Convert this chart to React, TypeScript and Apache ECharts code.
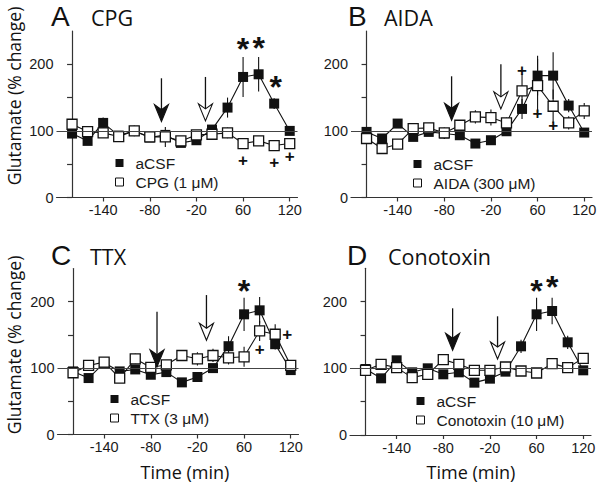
import React, { useEffect, useRef } from "react";
import * as echarts from "echarts";

// ---- data ----
const times = [-180, -160, -140, -120, -100, -80, -60, -40, -20, 20, 40, 60, 80, 100, 120];
const tickIndex = [2, 5, 8, 11, 14];
const yTicks = [0, 50, 100, 150, 200];

const A_acsf = [96, 85, 112, 93, 100, 90, 94, 82, 86, 102, 135, 181, 185, 141, 100];
const A_acsfErr = [5, 5, 8, 4, 4, 4, 4, 4, 4, 5, 15, 30, 26, 8, 5];
const A_drug = [110, 99, 97, 91.5, 100, 91, 91, 85, 94, 95, 97, 81, 85, 78, 81];
const A_drugErr = [5, 4, 4, 4, 8, 5, 15, 5, 5, 5, 8, 5, 4, 5, 5];

const B_acsf = [98.5, 88.6, 111, 91, 98.5, 96, 93.5, 81, 86, 99.5, 133, 183, 183, 138, 97.5];
const B_acsfErr = [4, 4, 6, 4, 4, 8, 4, 4, 4, 4, 15, 30, 35, 10, 5];
const B_drug = [88.6, 73.6, 80, 103.5, 104.5, 97, 108.5, 121, 120, 112, 160, 168, 137, 112, 130];
const B_drugErr = [5, 5, 5, 5, 5, 8, 5, 10, 12, 8, 25, 40, 25, 10, 12];

const C_acsf = [95, 85, 108, 95, 98, 90, 94, 78.5, 86.6, 100, 133, 181, 187, 136, 97];
const C_acsfErr = [4, 4, 5, 4, 5, 5, 4, 4, 4, 5, 15, 25, 20, 8, 5];
const C_drug = [93, 104, 109, 85, 114, 101, 105, 119, 114, 119, 115.5, 117, 156, 151, 104];
const C_drugErr = [5, 5, 5, 5, 8, 5, 5, 5, 10, 10, 10, 15, 15, 15, 8];

const D_acsf = [99, 85, 112, 94, 100, 91, 94, 78.5, 84.5, 95, 133, 181, 186, 139, 97];
const D_acsfErr = [4, 4, 5, 4, 5, 5, 4, 5, 4, 4, 10, 25, 20, 10, 5];
const D_drug = [97, 106, 101, 86, 91, 113, 106, 97, 97, 102, 96, 93, 107, 101, 115];
const D_drugErr = [4, 5, 5, 8, 5, 5, 5, 5, 5, 5, 5, 5, 5, 6, 8];

// arrows: [x index, tip value, top value, filled]
const A_arrows = [[5.75, 114, 179, 1], [8.58, 115, 181, 0]];
const B_arrows = [[5.47, 116, 182, 1], [8.64, 133, 200, 0]];
const C_arrows = [[5.4, 102, 185, 1], [8.58, 142, 210, 0]];
const D_arrows = [[5.6, 127, 190, 1], [8.49, 114, 178, 0]];

// significance marks: [x index, value]
const A_stars = [[11, 231], [12, 232], [13.1, 174]];
const A_plus = [[11, 56], [13, 52], [14, 61]];
const B_stars: number[][] = [];
const B_plus = [[10, 190], [11, 126], [12, 108.5]];
const C_stars = [[11, 224]];
const C_plus = [[12, 128], [13.77, 151]];
const D_stars = [[11, 223], [12, 229]];
const D_plus: number[][] = [];

const panels = [
  { letter: "A", title: "CPG", drug: "CPG (1 μM)", acsf: A_acsf, acsfErr: A_acsfErr, drugV: A_drug, drugErr: A_drugErr, arrows: A_arrows, stars: A_stars, plus: A_plus,
    grid: { left: 56.5, top: 31, width: 241, height: 166.5 }, legend: { left: 115, top: 155 }, tl: { x: 51, y: 16.5 }, tn: { x: 91, y: 17 } },
  { letter: "B", title: "AIDA", drug: "AIDA (300 μM)", acsf: B_acsf, acsfErr: B_acsfErr, drugV: B_drug, drugErr: B_drugErr, arrows: B_arrows, stars: B_stars, plus: B_plus,
    grid: { left: 351, top: 31, width: 241, height: 166.5 }, legend: { left: 413, top: 156 }, tl: { x: 348, y: 16.5 }, tn: { x: 384, y: 17 } },
  { letter: "C", title: "TTX", drug: "TTX (3 μM)", acsf: C_acsf, acsfErr: C_acsfErr, drugV: C_drug, drugErr: C_drugErr, arrows: C_arrows, stars: C_stars, plus: C_plus,
    grid: { left: 57.5, top: 268.5, width: 241, height: 166 }, legend: { left: 110, top: 391 }, tl: { x: 51, y: 255 }, tn: { x: 90, y: 256 } },
  { letter: "D", title: "Conotoxin", drug: "Conotoxin (10 μM)", acsf: D_acsf, acsfErr: D_acsfErr, drugV: D_drug, drugErr: D_drugErr, arrows: D_arrows, stars: D_stars, plus: D_plus,
    grid: { left: 350, top: 268.3, width: 241, height: 166.7 }, legend: { left: 416, top: 393 }, tl: { x: 347, y: 255 }, tn: { x: 388, y: 256 } },
];

const TICK_FONT = "Liberation Sans";
const TITLE_FONT = "Open Sans";
const INK = "#111";
const AXIS = "#333";

function buildOption() {
  const grids: any[] = [];
  const xAxes: any[] = [];
  const yAxes: any[] = [];
  const legends: any[] = [];
  const series: any[] = [];
  const graphics: any[] = [];

  panels.forEach((p, i) => {
    grids.push({ ...p.grid, containLabel: false });
    xAxes.push({
      gridIndex: i, type: "value", min: -1, max: 14.5,
      axisLine: { show: true, onZero: false, lineStyle: { color: AXIS, width: 1.2 } },
      axisTick: { show: true, length: 4, customValues: tickIndex, lineStyle: { color: AXIS, width: 1.2 } },
      axisLabel: { customValues: tickIndex, formatter: (v: number) => String(times[Math.round(v)]), color: "#1a1a1a", fontFamily: TICK_FONT, fontSize: 14.5, margin: 5 },
      splitLine: { show: false },
    });
    yAxes.push({
      gridIndex: i, type: "value", min: 0, max: 250, interval: 50,
      axisLine: { show: true, lineStyle: { color: AXIS, width: 1.2 } },
      axisTick: { show: true, length: 5, customValues: yTicks, lineStyle: { color: AXIS, width: 1.2 } },
      axisLabel: { customValues: [0, 100, 200], color: "#1a1a1a", fontFamily: TICK_FONT, fontSize: 14.5, margin: 3 },
      splitLine: { show: false },
    });
    legends.push({
      data: [{ name: "aCSF" }, { name: p.drug, itemStyle: { borderWidth: 1 } }],
      orient: "vertical", left: p.legend.left, top: p.legend.top,
      padding: 0, itemGap: 3, itemWidth: 8, itemHeight: 8, icon: "rect",
      textStyle: { fontFamily: TICK_FONT, fontSize: 15.5, color: "#1a1a1a", padding: [0, 0, 0, 7], lineHeight: 15 },
      selectedMode: false,
    });

    const idx = p.acsf.map((_, k) => k);
    const errData = (vals: number[], errs: number[]) => vals.map((v, k) => [idx[k], v - errs[k], v + errs[k]]);
    const errSeries = (vals: number[], errs: number[], z: number) => ({
      type: "custom", xAxisIndex: i, yAxisIndex: i, z, silent: true,
      data: errData(vals, errs), encode: { x: 0, y: [1, 2] },
      renderItem: (_: any, api: any) => {
        const a = api.coord([api.value(0), api.value(1)]);
        const b = api.coord([api.value(0), api.value(2)]);
        return { type: "line", shape: { x1: a[0], y1: a[1], x2: b[0], y2: b[1] }, style: { stroke: INK, lineWidth: 1.1 } };
      },
    });

    series.push(errSeries(p.acsf, p.acsfErr, 2));
    series.push(errSeries(p.drugV, p.drugErr, 2));
    series.push({
      name: "aCSF", type: "line", xAxisIndex: i, yAxisIndex: i, z: 3,
      data: p.acsf.map((v, k) => [idx[k], v]),
      symbol: "rect", symbolSize: 10, showSymbol: true,
      lineStyle: { color: INK, width: 1.1 }, itemStyle: { color: INK, borderColor: INK, borderWidth: 0 },
      markLine: {
        silent: true, symbol: ["none", "none"], label: { show: false },
        lineStyle: { color: "#444", width: 1.1, type: "solid" },
        data: [{ yAxis: 100 }],
      },
    });
    series.push({
      name: p.drug, type: "line", xAxisIndex: i, yAxisIndex: i, z: 4,
      data: p.drugV.map((v, k) => [idx[k], v]),
      symbol: "rect", symbolSize: 10, showSymbol: true,
      lineStyle: { color: INK, width: 1.1 }, itemStyle: { color: "#fff", borderColor: INK, borderWidth: 1.3 },
    });
    series.push({
      type: "custom", xAxisIndex: i, yAxisIndex: i, z: 5, silent: true,
      data: p.arrows, encode: { x: 0, y: [1, 2] },
      renderItem: (_: any, api: any) => {
        const x = api.value(0);
        const tip = api.coord([x, api.value(1)]);
        const top = api.coord([x, api.value(2)]);
        const filled = api.value(3) === 1;
        const hw = 7, hh = 17, notch = 5;
        return {
          type: "group",
          children: [
            { type: "line", shape: { x1: top[0], y1: top[1], x2: tip[0], y2: tip[1] - hh + notch }, style: { stroke: INK, lineWidth: 1.3 } },
            { type: "polygon", shape: { points: [[tip[0], tip[1]], [tip[0] - hw, tip[1] - hh], [tip[0], tip[1] - hh + notch], [tip[0] + hw, tip[1] - hh]] },
              style: { fill: filled ? INK : "#fff", stroke: INK, lineWidth: 1.1 } },
          ],
        };
      },
    });
    const textSeries = (data: number[][], ch: string, size: number, dy: number) => ({
      type: "custom", xAxisIndex: i, yAxisIndex: i, z: 6, silent: true,
      data, encode: { x: 0, y: 1 },
      renderItem: (_: any, api: any) => {
        const c = api.coord([api.value(0), api.value(1)]);
        return { type: "text", x: c[0], y: c[1] + dy,
          style: { text: ch, fontSize: size, fontFamily: TICK_FONT, fontWeight: "bold", fill: INK, align: "center", verticalAlign: "middle" } };
      },
    });
    if (p.stars.length) series.push(textSeries(p.stars, "*", 32, 5));
    if (p.plus.length) series.push(textSeries(p.plus, "+", 17, 0));

    graphics.push({ type: "text", x: p.tl.x, y: p.tl.y, style: { text: p.letter, fontFamily: TICK_FONT, fontSize: 28, lineHeight: 28, fill: INK, align: "left", verticalAlign: "middle" } });
    graphics.push({ type: "text", x: p.tn.x, y: p.tn.y, style: { text: p.title, fontFamily: TITLE_FONT, fontSize: 21.5, fill: INK, align: "left", verticalAlign: "middle" } });
  });

  graphics.push({ type: "text", x: 13.5, y: 96, rotation: Math.PI / 2, style: { text: "Glutamate (% change)", fontFamily: TITLE_FONT, fontSize: 17.5, fill: INK, align: "center", verticalAlign: "middle" } });
  graphics.push({ type: "text", x: 14, y: 345, rotation: Math.PI / 2, style: { text: "Glutamate (% change)", fontFamily: TITLE_FONT, fontSize: 17.5, fill: INK, align: "center", verticalAlign: "middle" } });
  graphics.push({ type: "text", x: 185, y: 472, style: { text: "Time (min)", fontFamily: TITLE_FONT, fontSize: 18, fill: INK, align: "center", verticalAlign: "middle" } });
  graphics.push({ type: "text", x: 471, y: 472, style: { text: "Time (min)", fontFamily: TITLE_FONT, fontSize: 18, fill: INK, align: "center", verticalAlign: "middle" } });

  return {
    animation: false,
    backgroundColor: "#fff",
    grid: grids,
    xAxis: xAxes,
    yAxis: yAxes,
    legend: legends,
    series,
    graphic: graphics,
  };
}

export default function App() {
  const ref = useRef<HTMLDivElement>(null);
  useEffect(() => {
    if (!ref.current) return;
    const chart = echarts.init(ref.current, undefined, { renderer: "svg" });
    chart.setOption(buildOption() as any);
    return () => chart.dispose();
  }, []);
  return <div ref={ref} style={{ position: "fixed", left: 0, top: 0, width: 600, height: 486, background: "#fff" }} />;
}
